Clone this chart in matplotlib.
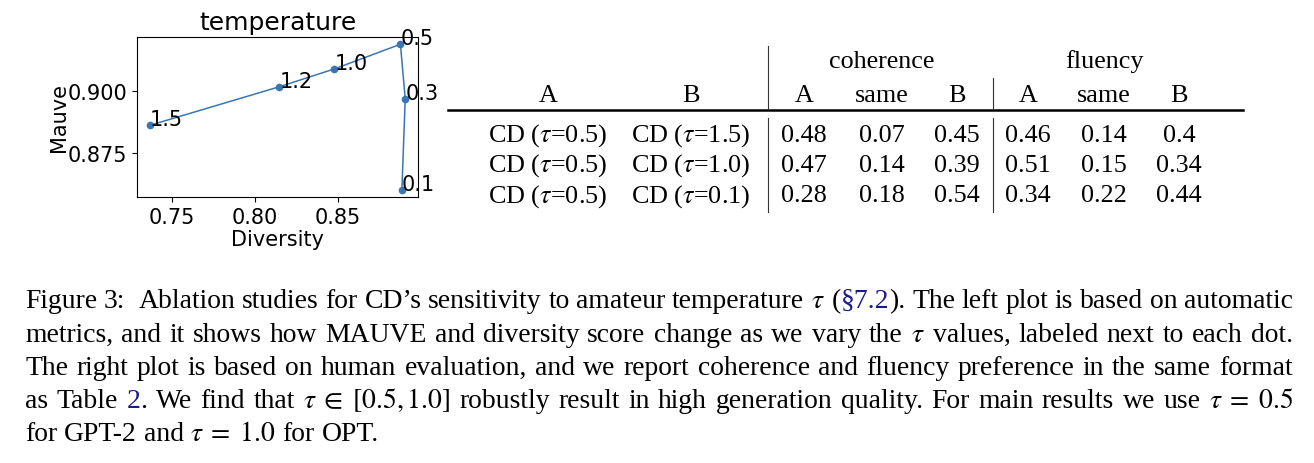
import re
import matplotlib
matplotlib.use("Agg")
import matplotlib.pyplot as plt
from matplotlib.lines import Line2D

# ---------------- data ----------------
temps = ['1.5', '1.2', '1.0', '0.5', '0.3', '0.1']
diversity = [0.7367, 0.8146, 0.8478, 0.8875, 0.8904, 0.8884]
mauve = [0.8863, 0.9018, 0.9090, 0.9189, 0.8970, 0.8604]
xticks = [0.75, 0.80, 0.85]
yticks = [0.875, 0.900]

col_a = [r'CD ($\tau$=0.5)', r'CD ($\tau$=0.5)', r'CD ($\tau$=0.5)']
col_b = [r'CD ($\tau$=1.5)', r'CD ($\tau$=1.0)', r'CD ($\tau$=0.1)']
coh_a = ['0.48', '0.47', '0.28']
coh_same = ['0.07', '0.14', '0.18']
coh_b = ['0.45', '0.39', '0.54']
flu_a = ['0.46', '0.51', '0.34']
flu_same = ['0.14', '0.15', '0.22']
flu_b = ['0.4', '0.34', '0.44']

caption_lines = [
    r"Figure 3:  Ablation studies for CD’s sensitivity to amateur temperature $\tau$ ([[§7.2]]). The left plot is based on automatic",
    r"metrics, and it shows how MAUVE and diversity score change as we vary the $\tau$ values, labeled next to each dot.",
    r"The right plot is based on human evaluation, and we report coherence and fluency preference in the same format",
    r"as Table [[2]]. We find that $\tau\;\in\;[0.5,1.0]$ robustly result in high generation quality. For main results we use $\tau\;=\;0.5$",
    r"for GPT-2 and $\tau\;=\;1.0$ for OPT.",
]

# ---------------- figure ----------------
W, H = 1314, 464
plt.rcParams['mathtext.fontset'] = 'stix'
fig = plt.figure(figsize=(W / 100, H / 100), dpi=100)
SERIF = 'Liberation Serif'
LINK = '#1a1a8a'


def fx(x):
    return x / W


def fy(y):
    return 1 - y / H


# ---------------- left plot ----------------
ax = fig.add_axes([fx(137), fy(198), fx(418) - fx(137), fy(38) - fy(198)])
ax.plot(diversity, mauve, '-o', color='#3a76b0', lw=1.1, ms=4.5)
for t, x, y in zip(temps, diversity, mauve):
    ax.text(x, y, t, fontsize=15)
ax.set_xticks(xticks)
ax.set_yticks(yticks)
ax.set_xticklabels([f'{v:.2f}' for v in xticks])
ax.set_yticklabels([f'{v:.3f}' for v in yticks])
ax.tick_params(labelsize=15)
ax.set_xlabel('Diversity', fontsize=15, labelpad=2)
ax.set_ylabel('Mauve', fontsize=15, labelpad=-1)
ax.set_title('temperature', fontsize=18)

# ---------------- table ----------------
TFS = 18.8
col_x = [548, 691, 804, 882, 957, 1028, 1104, 1179]
row_y = [141.7, 171.7, 202.3]


def ttext(x, y, s):
    fig.text(fx(x), fy(y), s, ha='center', va='baseline', fontsize=TFS,
             family=SERIF)


ttext(882, 68.3, 'coherence')
ttext(1104, 68.3, 'fluency')
for x, s in zip(col_x, ['A', 'B', 'A', 'same', 'B', 'A', 'same', 'B']):
    ttext(x, 101.7, s)
columns = [col_a, col_b, coh_a, coh_same, coh_b, flu_a, flu_same, flu_b]
for x, col in zip(col_x, columns):
    for y, s in zip(row_y, col):
        ttext(x, y, s)

fig.add_artist(Line2D([fx(448), fx(1243)], [fy(110.7), fy(110.7)],
                      transform=fig.transFigure, color='black', lw=1.8))
for x, y0 in [(768.3, 47.3), (993, 79)]:
    fig.add_artist(Line2D([fx(x), fx(x)], [fy(y0), fy(109.5)],
                          transform=fig.transFigure, color='#333333', lw=0.8))
    fig.add_artist(Line2D([fx(x), fx(x)], [fy(119), fy(213)],
                          transform=fig.transFigure, color='#333333', lw=0.8))

# ---------------- caption (justified) ----------------
CFS = 19.9
renderer = fig.canvas.get_renderer()


def tokens(line):
    return re.findall(r'\$[^$]*\$\S*|\S+', line)


def segments(word):
    segs = []
    for part in re.split(r'(\[\[.*?\]\])', word):
        if not part:
            continue
        if part.startswith('[['):
            segs.append((part[2:-2], LINK))
        else:
            segs.append((part, 'black'))
    return segs


def width(s):
    t = fig.text(0, 0, s, fontsize=CFS, family=SERIF)
    w = t.get_window_extent(renderer).width
    t.remove()
    return w


space_w = width('a a') - width('aa')
x_left, x_right = 25, 1293
base0, lead = 308.3, 33.2
for i, line in enumerate(caption_lines):
    words = tokens(line)
    segw = [[(s, c, width(s)) for s, c in segments(w)] for w in words]
    extra = [space_w if w == '3:' else 0 for w in words]
    wsum = [sum(sw for _, _, sw in sg) for sg in segw]
    total = sum(wsum) + sum(extra)
    if i < len(caption_lines) - 1 and len(words) > 1:
        gap = (x_right - x_left - total) / (len(words) - 1)
    else:
        gap = space_w
    y = base0 + lead * i
    x = x_left
    for sg, ws, ex in zip(segw, wsum, extra):
        xx = x
        for s, c, sw in sg:
            fig.text(fx(xx), fy(y), s, fontsize=CFS, family=SERIF, color=c,
                     ha='left', va='baseline')
            xx += sw
        x += ws + ex + gap

fig.savefig('out.png', dpi=100)
